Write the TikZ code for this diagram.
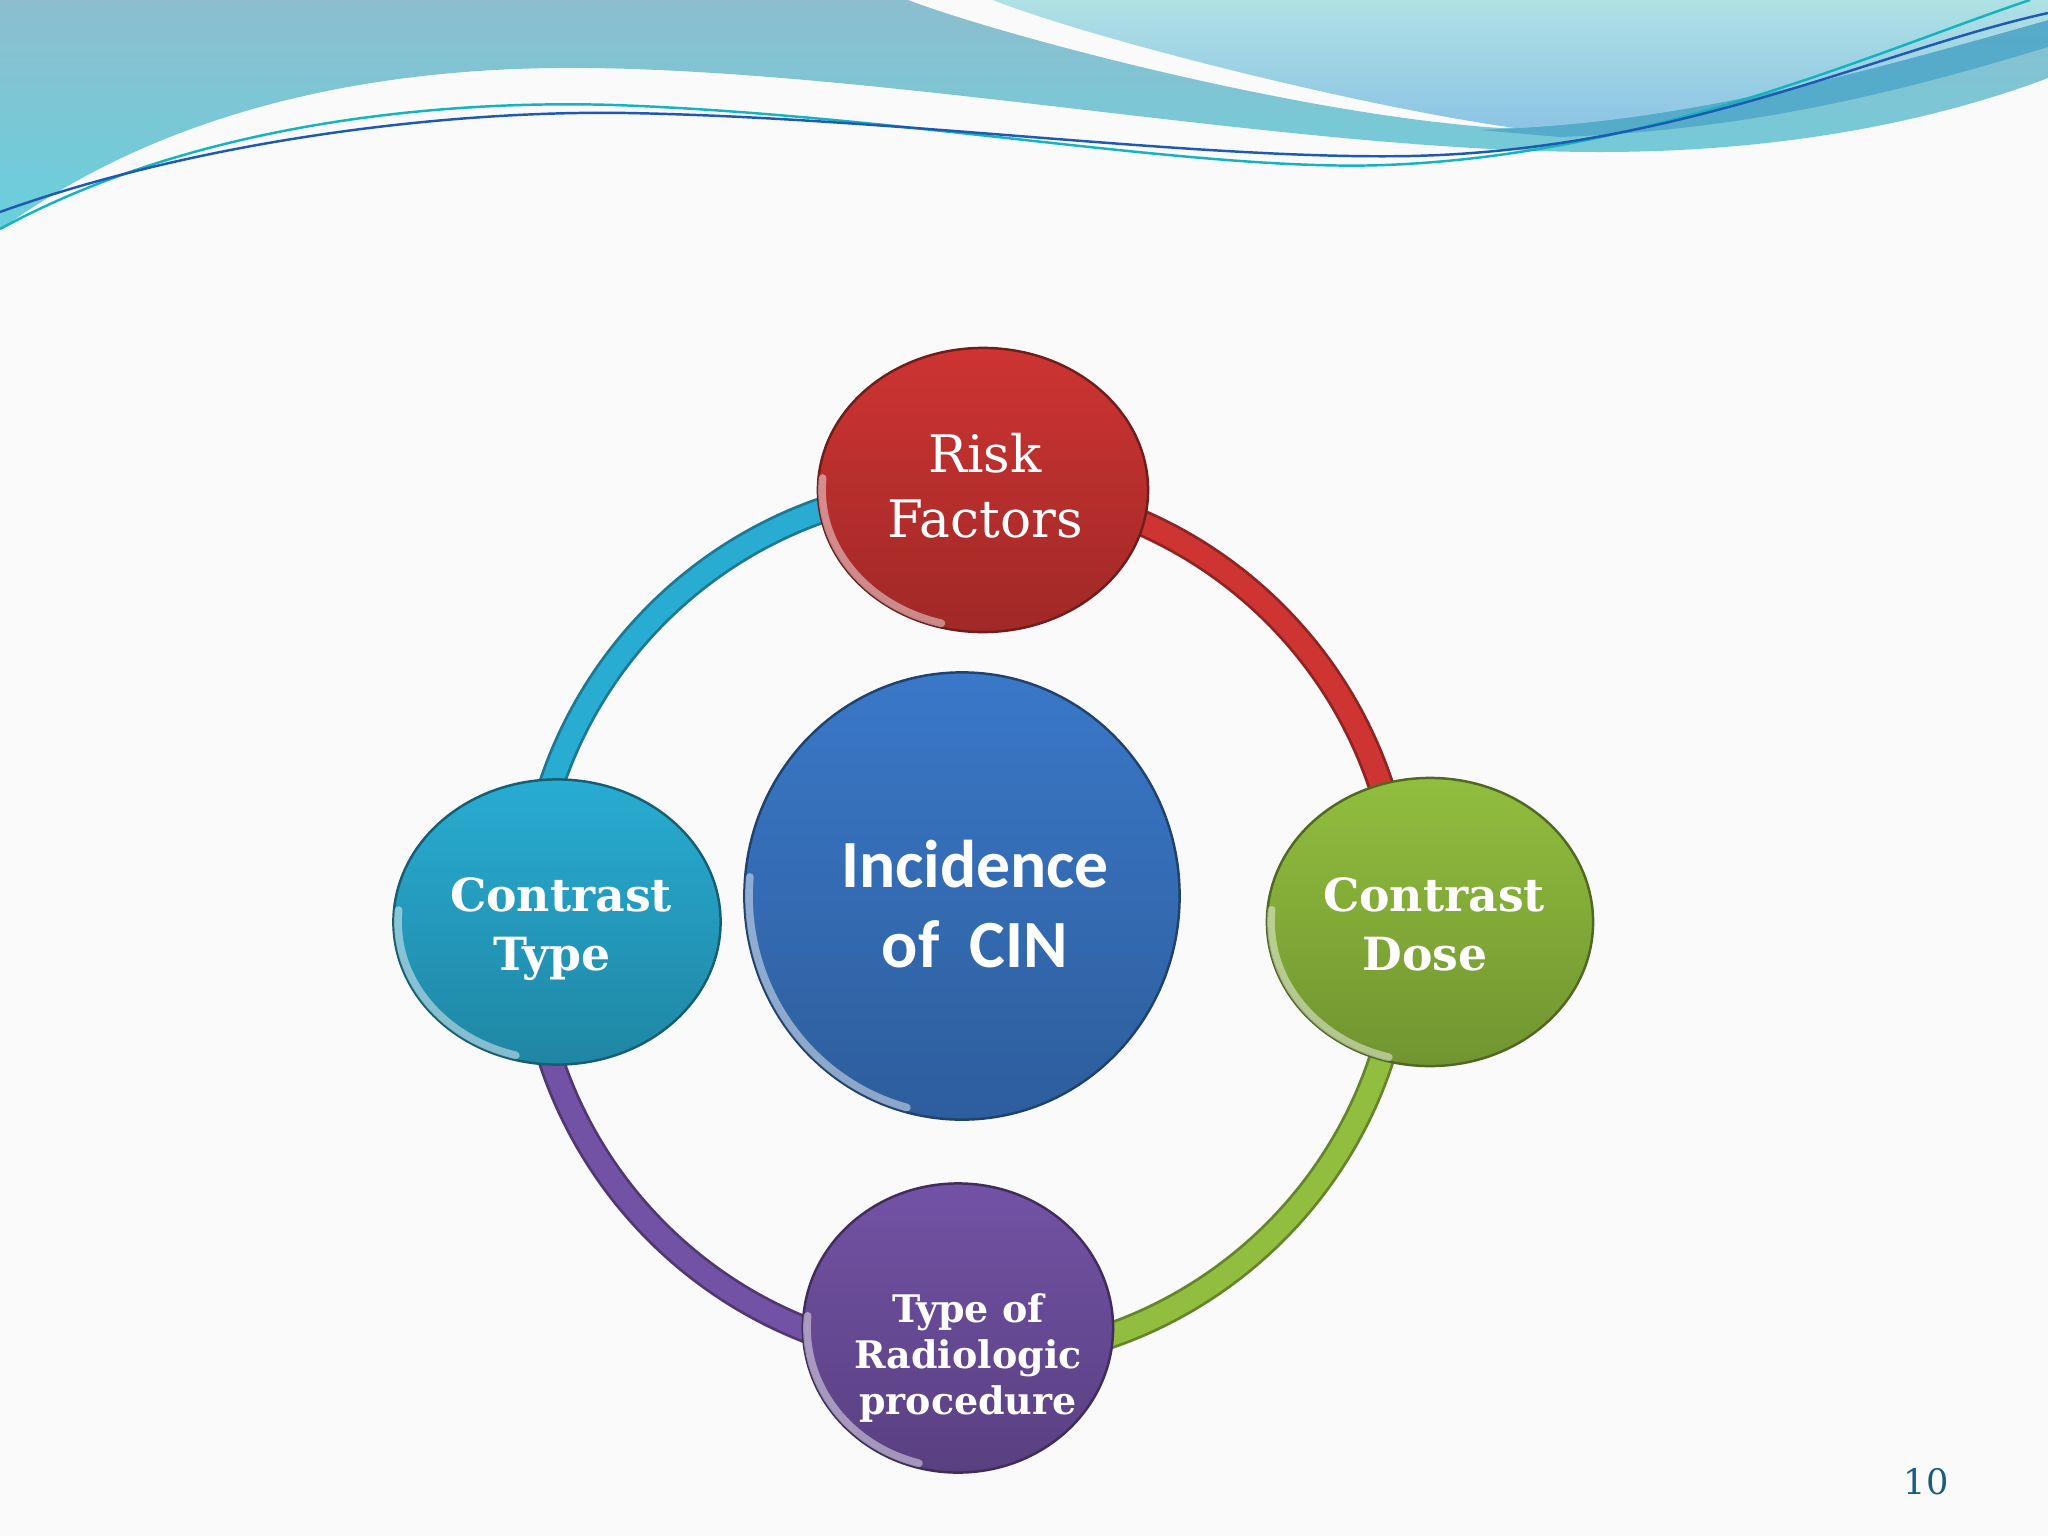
\documentclass[tikz,border=0pt]{standalone}
\usepackage{fontspec}
\setmainfont{DejaVu Serif}
\newfontfamily\cinfont{Carlito}
\usepackage{tikz}
\usetikzlibrary{shapes.geometric,calc}
\definecolor{slidebg}{RGB}{250, 250, 250}
\definecolor{wavetop}{RGB}{140, 190, 207}
\definecolor{wavebot}{RGB}{105, 208, 220}
\definecolor{wavelight}{RGB}{175, 225, 228}
\definecolor{wavelightb}{RGB}{140, 196, 228}
\definecolor{wavedark}{RGB}{75, 165, 200}
\definecolor{lineteal}{RGB}{20, 180, 190}
\definecolor{lineblue}{RGB}{30, 90, 180}
\definecolor{riskred}{RGB}{205, 52, 50}
\definecolor{cinblue}{RGB}{58, 120, 200}
\definecolor{typecyan}{RGB}{40, 172, 210}
\definecolor{dosegreen}{RGB}{145, 190, 62}
\definecolor{procpurple}{RGB}{114, 82, 165}
\definecolor{pagenum}{RGB}{25, 95, 125}
\pgfdeclarelayer{back}
\pgfdeclarelayer{ringlayer}
\pgfsetlayers{back,ringlayer,main}
% light rim on the lower left of a bubble
\newcommand{\gloss}[3]{%
  \draw[white, opacity=0.45, line width=2.2pt, line cap=round] ($(#1.center)+(175:#2 and #3)$) arc[start angle=175, end angle=255, x radius=#2, y radius=#3];}

\begin{document}
\begin{tikzpicture}[x=0.01cm, y=0.01cm,
  bubble/.style={ellipse, inner sep=0pt, draw=#1!55!black, line width=0.7pt, top color=#1, bottom color=#1!78!black},
  btext/.style={align=center, text=white, inner sep=0pt},
  ring/.style={draw=#1!70!black, line width=0.8pt, double=#1, double distance=6pt}]
  \useasboundingbox (0,0) rectangle (2048,-1536);

  \begin{pgfonlayer}{back}
  % Slide background
  \fill[slidebg] (0,0) rectangle (2048,-1536);
  % Header wave
  \shade[top color=wavetop, bottom color=wavebot] (0,0) -- (908,0) .. controls (1000,-35) and (1300,-115) .. (1500,-128) .. controls (1700,-122) and (1900,-62) .. (2048,-20) -- (2048,-78) .. controls (1950,-115) and (1800,-152) .. (1600,-152) .. controls (1300,-152) and (900,-72) .. (590,-68) .. controls (350,-65) and (150,-120) .. (0,-230) -- cycle;
  \fill[wavedark, opacity=0.8] (1480,-130) .. controls (1700,-122) and (1900,-62) .. (2048,-18) -- (2048,-47) .. controls (1900,-92) and (1750,-130) .. (1560,-137) -- cycle;
  \shade[top color=wavelight, bottom color=wavelightb] (993,0) .. controls (1080,-35) and (1350,-105) .. (1515,-128) .. controls (1700,-120) and (1900,-62) .. (2048,-20) -- (2048,0) -- cycle;
  \draw[lineteal, line width=0.7pt] (0,-229) .. controls (200,-120) and (450,-100) .. (614,-105) .. controls (900,-115) and (1200,-172) .. (1385,-165) .. controls (1650,-155) and (1880,-50) .. (2030,0);
  \draw[lineblue, line width=0.7pt] (0,-212) .. controls (200,-140) and (450,-110) .. (627,-113) .. controls (900,-118) and (1200,-160) .. (1411,-156) .. controls (1680,-150) and (1880,-50) .. (2048,-13);
  \end{pgfonlayer}

  % Bubbles
  \node[bubble=cinblue, minimum width=4.35cm, minimum height=4.47cm] (cin) at (962,-896) {};
  \node[bubble=riskred, minimum width=3.30cm, minimum height=2.84cm] (risk) at (983,-490) {};
  \node[bubble=typecyan, minimum width=3.27cm, minimum height=2.85cm] (type) at (557,-922) {};
  \node[bubble=dosegreen, minimum width=3.26cm, minimum height=2.88cm] (dose) at (1430,-922) {};
  \node[bubble=procpurple, minimum width=3.10cm, minimum height=2.89cm] (proc) at (958,-1328) {};
  \gloss{cin}{213}{219}
  \gloss{risk}{161}{138}
  \gloss{type}{159}{138}
  \gloss{dose}{159}{140}
  \gloss{proc}{151}{140}

  % Texts
  \node[btext, font=\cinfont\bfseries\fontsize{19.2}{22.5}\selectfont] (cin-text) at (975,-904) {Incidence\\of\ \ CIN};
  \node[btext, font=\fontsize{14.7}{18.5}\selectfont] (risk-text) at (985,-486) {Risk\\Factors};
  \node[btext, font=\bfseries\fontsize{13}{16.7}\selectfont] (type-text) at (561,-929) {Contrast\\Type\kern5pt};
  \node[btext, font=\bfseries\fontsize{13}{16.7}\selectfont] (dose-text) at (1434,-924) {Contrast\\Dose\kern5pt};
  \node[btext, font=\bfseries\fontsize{10.8}{13.2}\selectfont] (proc-text) at (968,-1358) {Type of\\Radiologic\\procedure};

  % Ring
  \coordinate (hub) at (966,-923);
  \begin{pgfonlayer}{ringlayer}
  \draw[ring=typecyan] ($(hub)+(180:437)$) arc[start angle=180, end angle=90, radius=437];
  \draw[ring=riskred] ($(hub)+(90:437)$) arc[start angle=90, end angle=0, radius=437];
  \draw[ring=dosegreen] ($(hub)+(0:437)$) arc[start angle=0, end angle=-90, radius=437];
  \draw[ring=procpurple] ($(hub)+(-90:437)$) arc[start angle=-90, end angle=-180, radius=437];
  \end{pgfonlayer}

  % Page number
  \node[pagenum, font=\fontsize{10}{12}\selectfont] (page) at (1926,-1482) {10};
\end{tikzpicture}
\end{document}
